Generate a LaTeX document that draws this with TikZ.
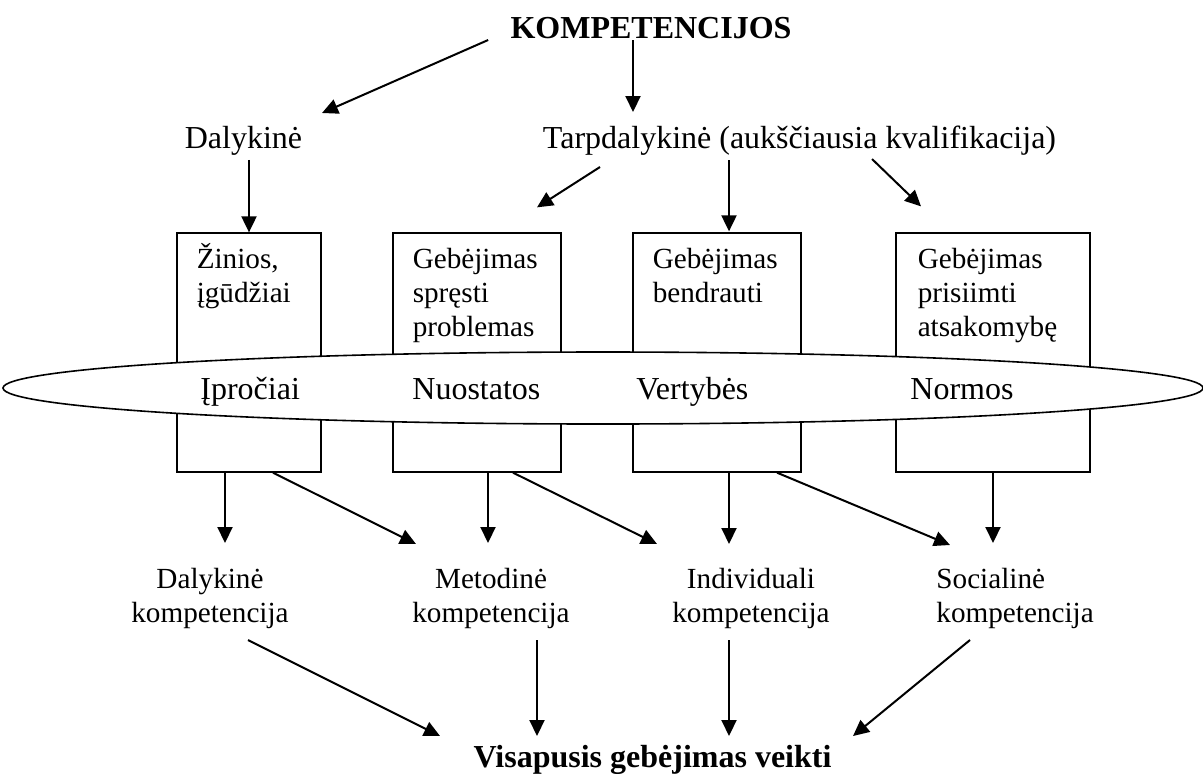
\documentclass[tikz,border=0pt]{standalone}
\usepackage{fontspec}
\setmainfont{Liberation Serif}
\usetikzlibrary{arrows.meta,calc,shapes.geometric,positioning}

\tikzset{
  tekstas/.style={inner sep=0pt, font=\fontsize{14.6}{17}\selectfont},
  didesnis/.style={inner sep=0pt, font=\fontsize{16}{19}\selectfont},
  antraste/.style={inner sep=0pt, font=\fontsize{16}{19}\selectfont\bfseries},
  dezute/.style={draw, line width=0.65pt, minimum height=119.5pt, inner sep=0pt},
  rodykle/.style={line width=1pt, -{Triangle[length=8pt,width=7.5pt]}},
}

\begin{document}
\begin{tikzpicture}[x=0.5pt,y=-0.5pt]
			\useasboundingbox (0,0) rectangle (1203,773);
			
			% virsus
			\node[antraste,anchor=base] (komp) at (651,38) {KOMPETENCIJOS};
			\node[didesnis,anchor=base] (dal) at (243.5,148) {Dalykinė};
			\node[didesnis,anchor=base] (tarp) at (799.5,148) {Tarpdalykinė (aukščiausia kvalifikacija)};
			
			% dezutes
			\node[dezute,minimum width=72pt] (b1) at (249,352.5) {};
			\node[dezute,minimum width=84pt] (b2) at (477,352.5) {};
			\node[dezute,minimum width=84pt] (b3) at (717,352.5) {};
			\node[dezute,minimum width=97pt] (b4) at (993,352.5) {};
			
			\node[tekstas,align=left,anchor=base west] (t1) at ($(b1.north west)+(20,70)$) {Žinios,\\įgūdžiai};
			\node[tekstas,align=left,anchor=base west] (t2) at ($(b2.north west)+(20,104)$) {Gebėjimas\\spręsti\\problemas};
			\node[tekstas,align=left,anchor=base west] (t3) at ($(b3.north west)+(20,70)$) {Gebėjimas\\bendrauti};
			\node[tekstas,align=left,anchor=base west] (t4) at ($(b4.north west)+(22,104)$) {Gebėjimas\\prisiimti\\atsakomybę};
			
			% elipse
			\node[draw,ellipse,fill=white,line width=0.8pt,minimum width=600pt,minimum height=36pt,inner sep=0pt] (ell) at (603,388) {};
			\node[didesnis,anchor=base west] (ip) at (200,399) {Įpročiai};
			\node[didesnis,anchor=base west] (nu) at (412,399) {Nuostatos};
			\node[didesnis,anchor=base west] (ve) at (636,399) {Vertybės};
			\node[didesnis,anchor=base west] (no) at (910,399) {Normos};
			
			% kompetencijos
			\node[tekstas,align=center,anchor=base] (dk) at (210,622) {Dalykinė\\kompetencija};
			\node[tekstas,align=center,anchor=base] (mk) at (491,622) {Metodinė\\kompetencija};
			\node[tekstas,align=center,anchor=base] (ik) at (751,622) {Individuali\\kompetencija};
			\node[tekstas,align=left,anchor=base west] (sk) at (936,622) {Socialinė\\kompetencija};
			\node[antraste,anchor=base] (vis) at (652.5,767) {Visapusis gebėjimas veikti};
			
			% rodykles
			\draw[rodykle] ($(komp.base west)+(-22,2)$) -- ($(dal.base)+(78.5,-35)$);
			\draw[rodykle] ($(komp.base)+(-18,2)$) -- ($(tarp.base)+(-166.5,-36)$);
			\draw[rodykle,shorten <=2.3pt] (b1.north |- dal.south) -- (b1.north);
			\draw[rodykle] ($(tarp.base)+(-199.5,19)$) -- ($(b2.north)+(60,-25)$);
			\draw[rodykle] ($(tarp.base)+(-70.5,12)$) -- ($(b3.north)+(12,-1)$);
			\draw[rodykle] ($(tarp.base)+(72.5,11)$) -- ($(b4.north)+(-72,-26)$);
			
			\draw[rodykle] ($(b1.south)+(-24,0)$) -- ($(dk.base)+(15,-79)$);
			\draw[rodykle] ($(b1.south)+(24,0)$) -- ($(mk.base)+(-75,-78)$);
			\draw[rodykle] ($(b2.south)+(11,0)$) -- ($(mk.base)+(-3,-79)$);
			\draw[rodykle] ($(b2.south)+(36,0)$) -- ($(ik.base)+(-94,-78)$);
			\draw[rodykle] ($(b3.south)+(12,0)$) -- ($(ik.base)+(-22,-78)$);
			\draw[rodykle] ($(b3.south)+(60,0)$) -- ($(sk.base west)+(14,-77)$);
			\draw[rodykle] (b4.south) -- ($(sk.base west)+(57,-79)$);
			
			\draw[rodykle] ($(dk.base)+(38,18)$) -- ($(vis.base)+(-212.5,-31)$);
			\draw[rodykle] ($(mk.base)+(46,18)$) -- ($(vis.base)+(-115.5,-31)$);
			\draw[rodykle] ($(ik.base)+(-22,18)$) -- ($(vis.base)+(76.5,-31)$);
			\draw[rodykle] ($(sk.base west)+(34,18)$) -- ($(vis.base)+(200.5,-31)$);
			
		\end{tikzpicture}
\end{document}
